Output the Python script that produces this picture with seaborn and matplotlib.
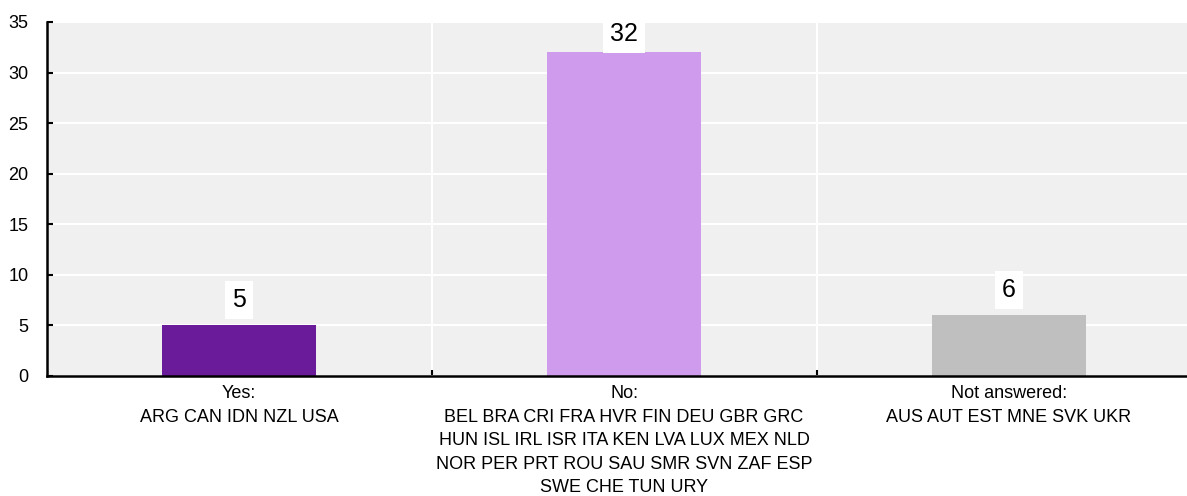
import matplotlib
matplotlib.use("Agg")
import matplotlib.pyplot as plt
from matplotlib import font_manager
import seaborn as sns
import pandas as pd

# Data
answers = ["Yes", "No", "Not answered"]
counts = [5, 32, 6]
colors = ["#6a1b9a", "#cf9bec", "#bfbfbf"]

yes_countries = ["ARG CAN IDN NZL USA"]
no_countries = ["BEL BRA CRI FRA HVR FIN DEU GBR GRC",
                "HUN ISL IRL ISR ITA KEN LVA LUX MEX NLD",
                "NOR PER PRT ROU SAU SMR SVN ZAF ESP",
                "SWE CHE TUN URY"]
na_countries = ["AUS AUT EST MNE SVK UKR"]

tick_labels = [
    "Yes:\n" + "\n".join(yes_countries),
    "No:\n" + "\n".join(no_countries),
    "Not answered:\n" + "\n".join(na_countries),
]

df = pd.DataFrame({"answer": answers, "count": counts})

sns.set_style("whitegrid", {"axes.facecolor": "#f0f0f0", "grid.color": "white",
                            "text.color": "black", "xtick.color": "black",
                            "ytick.color": "black"})
installed = {f.name for f in font_manager.fontManager.ttflist}
family = "Liberation Sans Narrow" if "Liberation Sans Narrow" in installed else "Liberation Sans"
plt.rcParams["font.family"] = [family, "DejaVu Sans"]

fig = plt.figure(figsize=(11.87, 4.96), dpi=100)
ax = fig.add_axes([46.5 / 1187, 120 / 496, 1155 / 1187, 354 / 496])

sns.barplot(data=df, x="answer", y="count", hue="answer", palette=colors,
            width=0.4, legend=False, ax=ax, saturation=1, linewidth=0)

ax.set_xlim(-0.5, 2.5)
ax.set_ylim(0, 35)
ax.set_yticks(range(0, 36, 5))
ax.set_xlabel("")
ax.set_ylabel("")

# category labels under the bars, separators at the boundaries
ax.set_xticks([0, 1, 2])
ax.set_xticklabels(tick_labels, fontsize=13, linespacing=1.5, color="black")
ax.set_xticks([0.5, 1.5], minor=True)
ax.tick_params(axis="x", which="major", length=0, pad=6.5)
ax.tick_params(axis="x", which="minor", direction="in", length=4, width=1.5,
               color="black", bottom=True)
ax.tick_params(axis="y", direction="in", length=4, width=1.5, color="black",
               left=True, labelsize=13, labelcolor="black", pad=13)

ax.grid(False)
ax.yaxis.grid(True, color="white", linewidth=1.5)
ax.xaxis.grid(True, which="minor", color="white", linewidth=1.5)
ax.set_axisbelow(True)

for side in ["top", "right"]:
    ax.spines[side].set_visible(False)
for side in ["left", "bottom"]:
    ax.spines[side].set_color("black")
    ax.spines[side].set_linewidth(1.8)
    ax.spines[side].set_zorder(5)

# value labels in white boxes above each bar
ymax = ax.get_ylim()[1]
for i, v in enumerate(counts):
    box = dict(facecolor="white", edgecolor="none", pad=5)
    if v + 7 > ymax:
        ax.annotate(str(v), (i, ymax), xytext=(0, 0), textcoords="offset pixels",
                    ha="center", va="top", fontsize=18, color="black",
                    bbox=box, zorder=6, annotation_clip=False, clip_on=True)
    else:
        ax.annotate(str(v), (i, v), xytext=(0, 13), textcoords="offset pixels",
                    ha="center", va="bottom", fontsize=18, color="black",
                    bbox=box, zorder=6)

fig.savefig("out.png", dpi=100)
